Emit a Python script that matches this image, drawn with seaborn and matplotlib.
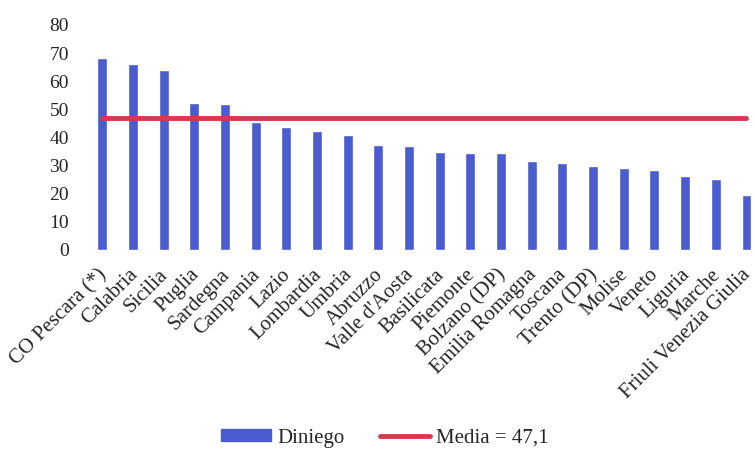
import numpy as np
import pandas as pd
import matplotlib
matplotlib.use("Agg")
import matplotlib.pyplot as plt
import matplotlib.transforms as mtransforms
import seaborn as sns
from matplotlib.lines import Line2D
from matplotlib.patches import Patch

# data
regioni = ['CO Pescara (*)', 'Calabria', 'Sicilia', 'Puglia', 'Sardegna', 'Campania',
           'Lazio', 'Lombardia', 'Umbria', 'Abruzzo', "Valle d'Aosta", 'Basilicata',
           'Piemonte', 'Bolzano (DP)', 'Emilia Romagna', 'Toscana', 'Trento (DP)',
           'Molise', 'Veneto', 'Liguria', 'Marche', 'Friuli Venezia Giulia']
diniego = [68.4, 66.2, 64.0, 52.1, 51.8, 45.4, 43.9, 42.2, 41.0, 37.5, 36.8, 35.0,
           34.6, 34.5, 31.6, 31.1, 29.9, 29.1, 28.6, 26.4, 25.2, 19.7]
media = 47.1

df = pd.DataFrame({'regione': regioni, 'diniego': diniego})

sns.set_theme(style="white")
plt.rcParams['font.family'] = ['Liberation Serif', 'DejaVu Serif']

bar_color = '#4a5ccf'
line_color = '#d8384f'

fig = plt.figure(figsize=(7.55, 4.54), dpi=100)
ax = fig.add_axes([87 / 755, 1 - 250 / 454, 1 - 87 / 755, (250 - 25) / 454])

sns.barplot(data=df, x='regione', y='diniego', color=bar_color, width=0.32,
            saturation=1, ax=ax)
ax.plot([0, len(regioni) - 1], [media, media], color=line_color, lw=3.5)

ax.set_ylim(0, 80)
ax.set_yticks(range(0, 81, 10))
ax.set_xlim(-0.5, 21.28)
ax.set_xlabel('')
ax.set_ylabel('')
sns.despine(ax=ax, left=True, bottom=True)
ax.tick_params(axis='y', labelsize=14, pad=13, length=0)
ax.tick_params(axis='x', labelsize=15, pad=11, length=0)
# shift the rotated labels a little to the left so the last one fits
shift = mtransforms.ScaledTranslation(-5 / 100, 0, fig.dpi_scale_trans)
for lab in ax.get_xticklabels():
    lab.set_rotation(45)
    lab.set_ha('right')
    lab.set_rotation_mode('anchor')
    lab.set_transform(lab.get_transform() + shift)

handles = [Patch(color=bar_color, label='Diniego'),
           Line2D([0], [0], color=line_color, lw=3.5, label='Media = 47,1')]
fig.legend(handles=handles, loc='center', bbox_to_anchor=(0.51, 1 - 438 / 454),
           ncol=2, frameon=False, fontsize=15, handlelength=2.4, handleheight=0.5,
           handletextpad=0.3, columnspacing=1.7)

fig.savefig('out.png', dpi=100)
